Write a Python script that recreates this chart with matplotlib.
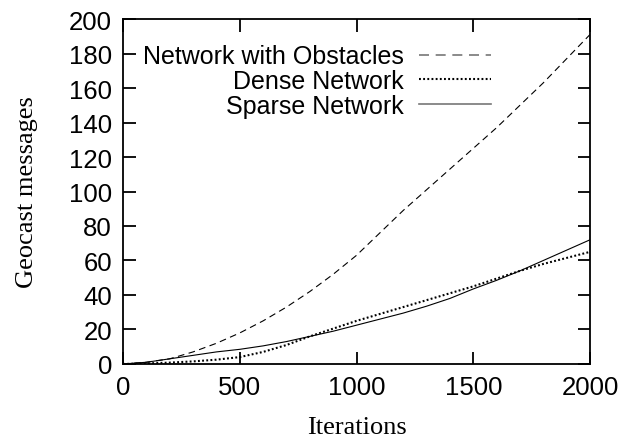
import matplotlib
matplotlib.use("Agg")
import matplotlib.pyplot as plt

# values
iterations = [0, 100, 200, 300, 400, 500, 600, 700, 800, 900, 1000,
              1100, 1200, 1300, 1400, 1500, 1600, 1700, 1800, 1900, 2000]
obstacles = [0, 1, 3, 7, 12, 18, 25, 33, 42, 52, 63,
             76, 89, 101, 113, 125, 137, 150, 163, 177, 191]
dense = [0, 0.3, 0.8, 1.5, 2.5, 4, 7, 11, 16, 20.5, 25,
         29, 33, 37, 41, 45, 49.5, 54, 58, 61.5, 65]
sparse = [0, 1, 3, 5, 7, 8.5, 10.5, 13, 16, 19, 22.5,
          26, 29.5, 33.5, 38, 43.5, 48.5, 54, 60, 66, 72]

labels = ["Network with Obstacles", "Dense Network", "Sparse Network"]
xticks = [0, 500, 1000, 1500, 2000]
yticks = list(range(0, 201, 20))

plt.rcParams["font.family"] = ["Liberation Sans", "DejaVu Sans"]

fig = plt.figure(figsize=(6.29, 4.39), dpi=100)
ax = fig.add_axes([0.1956, 0.1686, 0.7424, 0.7858])

ax.plot(iterations, obstacles, color="black", lw=0.8, dashes=(6, 4), label=labels[0])
ax.plot(iterations, dense, color="black", lw=1.5, dashes=(0.9, 1.1), label=labels[1])
ax.plot(iterations, sparse, color="black", lw=0.8, label=labels[2])

ax.set_xlim(0, 2000)
ax.set_ylim(0, 200)
ax.set_xticks(xticks)
ax.set_yticks(yticks)
ax.tick_params(direction="in", length=9, width=1.3, top=True, right=True,
               labelsize=18.5, pad=8)
for s in ax.spines.values():
    s.set_linewidth(1.3)

serif = ["Liberation Serif", "DejaVu Serif"]
ax.set_xlabel("Iterations", fontsize=19, family=serif, labelpad=12)
ax.set_ylabel("Geocast messages", fontsize=19, family=serif, labelpad=22)

leg = ax.legend(loc="upper left", bbox_to_anchor=(0.005, 0.977), frameon=False,
                markerfirst=False, fontsize=18, handlelength=2.9,
                handletextpad=0.6, labelspacing=0.03, borderpad=0.2)
# gnuplot draws the dashed and solid keys grey-ish, the dotted one black
handles = leg.get_lines()
handles[0].set_color("#777777")
handles[0].set_linewidth(1.2)
handles[1].set_color("black")
handles[1].set_linewidth(1.5)
handles[2].set_color("#777777")
handles[2].set_linewidth(1.2)

fig.savefig("out.png", dpi=100)
